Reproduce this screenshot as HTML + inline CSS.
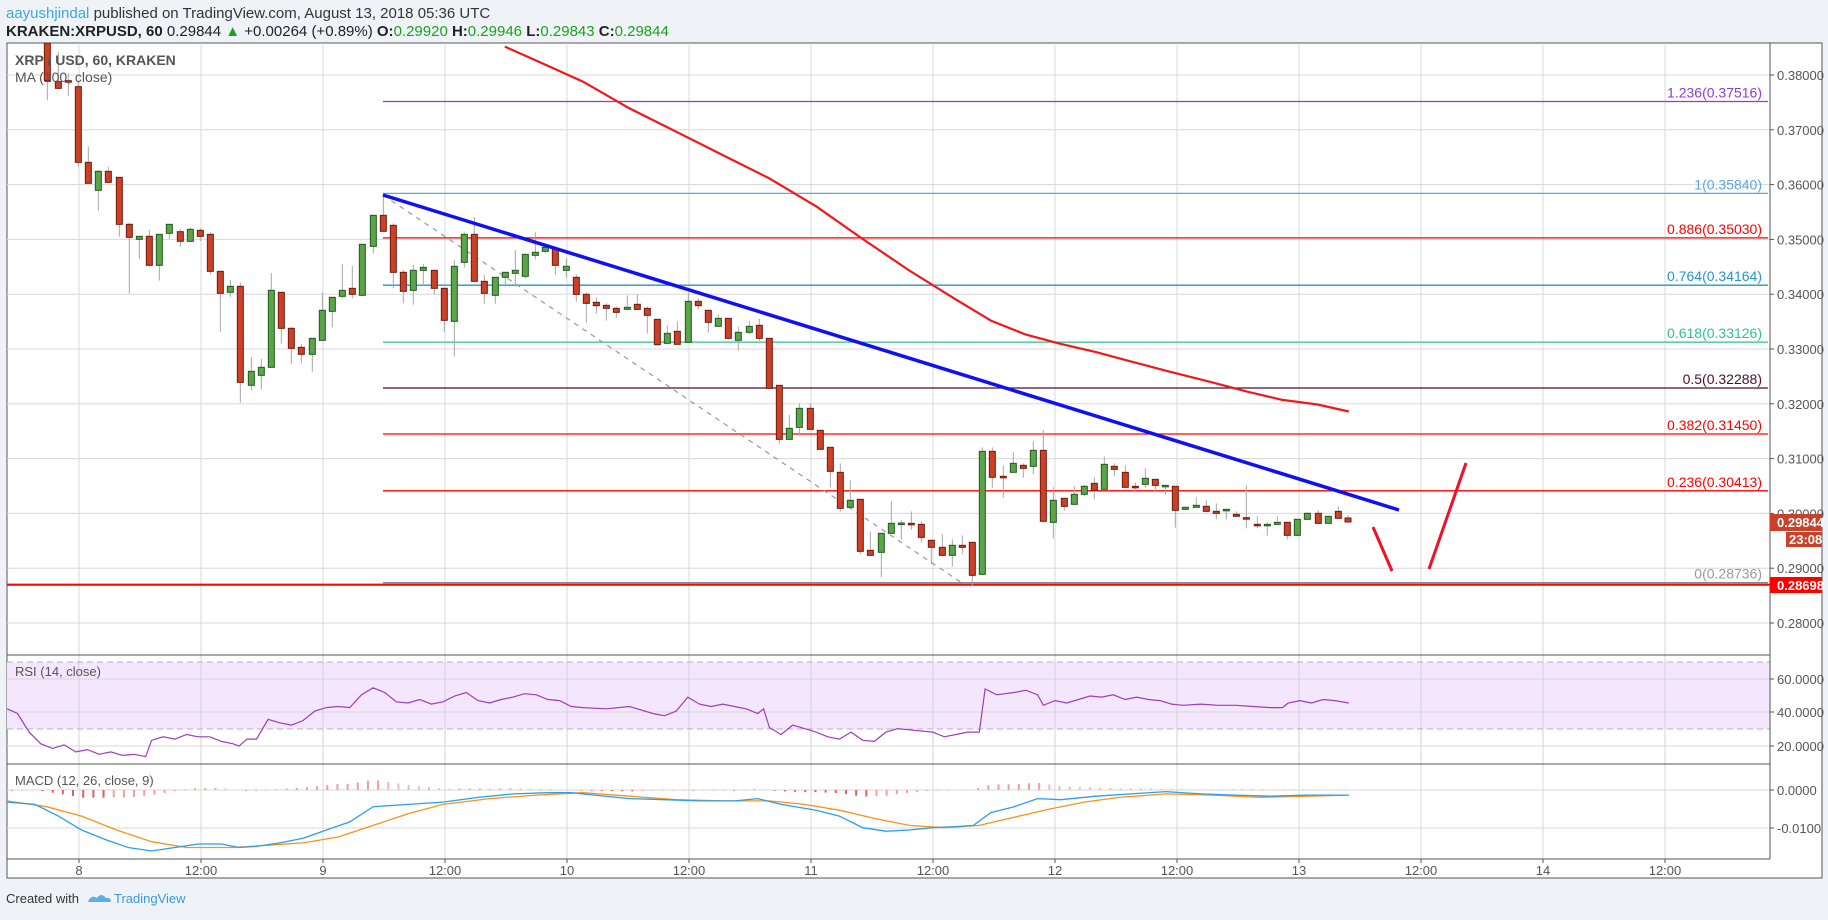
<!DOCTYPE html>
<html><head><meta charset="utf-8">
<style>
html,body{margin:0;padding:0;background:#eff3f7;}
body{width:1828px;height:915px;overflow:hidden;font-family:"Liberation Sans",sans-serif;position:relative;}
svg text{font-family:"Liberation Sans",sans-serif;}
</style></head>
<body>
<svg id="s" width="1828" height="915" xmlns="http://www.w3.org/2000/svg">
<rect x="0" y="0" width="1828" height="915" fill="#eff3f7"/>
<rect x="7" y="43" width="1815" height="835" fill="#ffffff" stroke="#555" stroke-width="1"/>
<text x="6" y="18" font-size="15" fill="#333"><tspan fill="#3ba9dc">aayushjindal</tspan> published on TradingView.com, August 13, 2018 05:36 UTC</text>
<text x="6" y="36" font-size="15" fill="#222"><tspan font-weight="bold">KRAKEN:XRPUSD, 60</tspan> 0.29844 <tspan fill="#1da01d">▲</tspan> +0.00264 (+0.89%) <tspan font-weight="bold">O:</tspan><tspan fill="#1da01d">0.29920</tspan> <tspan font-weight="bold">H:</tspan><tspan fill="#1da01d">0.29946</tspan> <tspan font-weight="bold">L:</tspan><tspan fill="#1da01d">0.29843</tspan> <tspan font-weight="bold">C:</tspan><tspan fill="#1da01d">0.29844</tspan></text>
<g id="g"></g>
<text x="6" y="903" font-size="13" fill="#333">Created with</text>
<path d="M88 902 q3 -8 9 -4 q4 -6 9 0 q5 -1 5 4 z" fill="#5ab0e0"/>
<text x="114" y="903" font-size="13" fill="#3a9ad9">TradingView</text>
</svg>
<script>
var NS="http://www.w3.org/2000/svg",G=document.getElementById('g');
function el(t,a,txt){var e=document.createElementNS(NS,t);for(var k in a)e.setAttribute(k,a[k]);if(txt!==undefined)e.textContent=txt;G.appendChild(e);return e;}
var L=7,R=1770,T=43,B=655;
for(var i=0;i<11;i++){var y=75+i*54.8;el('line',{x1:L,x2:R,y1:y,y2:y,stroke:'#d8d8d8','stroke-width':1});
 el('line',{x1:R,x2:R+4,y1:y,y2:y,stroke:'#555'});
 el('text',{x:1777,y:y+5,'font-size':13,fill:'#555'},(0.38-i*0.01).toFixed(5));}
var tl=['8','12:00','9','12:00','10','12:00','11','12:00','12','12:00','13','12:00','14','12:00'];
for(var k=0;k<14;k++){var x=79+122*k;el('line',{x1:x,x2:x,y1:T,y2:859,stroke:'#d8d8d8'});
 el('line',{x1:x,x2:x,y1:859,y2:863,stroke:'#555'});
 el('text',{x:x,y:875,'font-size':13,fill:'#555','text-anchor':'middle'},tl[k]);}
el('rect',{x:L,y:662,width:R-L,height:67,fill:'#f3e6fd'});
[679,712,746].forEach(function(y,i){el('line',{x1:L,x2:R,y1:y,y2:y,stroke:'#d8d8d8'});el('line',{x1:R,x2:R+4,y1:y,y2:y,stroke:'#555'});el('text',{x:1777,y:y+5,'font-size':13,fill:'#555'},['60.0000','40.0000','20.0000'][i]);});
for(var k=0;k<14;k++){var x=79+122*k;el('line',{x1:x,x2:x,y1:655,y2:764,stroke:'#d8cde0'});}
[662,729].forEach(function(y){el('line',{x1:L,x2:R,y1:y,y2:y,stroke:'#b9b0c0','stroke-dasharray':'6,4'});});
[790,828].forEach(function(y,i){el('line',{x1:L,x2:R,y1:y,y2:y,stroke:'#d8d8d8'});el('line',{x1:R,x2:R+4,y1:y,y2:y,stroke:'#555'});el('text',{x:1777,y:y+5,'font-size':13,fill:'#555'},['0.0000','-0.0100'][i]);});
[655,764,859].forEach(function(y){el('line',{x1:L,x2:R,y1:y,y2:y,stroke:'#555'});});
el('line',{x1:R,x2:R,y1:T,y2:859,stroke:'#555'});
var fib=[[101.5,'#8e3bd0','1.236(0.37516)'],[193.4,'#5aa9d6','1(0.35840)'],[237.9,'#ff0000','0.886(0.35030)'],[285.2,'#2196c9','0.764(0.34164)'],[342.1,'#2fbf8f','0.618(0.33126)'],[388,'#4a1030','0.5(0.32288)'],[434,'#ff0000','0.382(0.31450)'],[490.8,'#ff0000','0.236(0.30413)'],[582.7,'#888','0(0.28736)']];
fib.forEach(function(f){el('line',{x1:383,x2:1768,y1:f[0],y2:f[0],stroke:f[1],'stroke-width':1.3});
 el('text',{x:1762,y:f[0]-4,'font-size':14,fill:f[1]==='#888'?'#999':f[1],'text-anchor':'end'},f[2]);});
el('line',{x1:L,x2:R,y1:584.7,y2:584.7,stroke:'#ff0000','stroke-width':2.2});
el('line',{x1:383,y1:195,x2:962,y2:583,stroke:'#999','stroke-width':1.2,'stroke-dasharray':'5,5'});
var Z=[[0,40,[
[142,0,122,0,180,0],[175,125,145,35,145,0],[205,122,125,100,168,0],[235,140,367,125,380,0],[265,367,430,320,430,0],[295,394,451,390,512,1],[325,394,427,380,430,0],[358,412,553,412,590,0],[388,553,592,548,760,0],[418,589,598,589,656,1],[448,589,676,570,676,0],[478,583,676,583,722,1],[508,553,580,553,597,1],[541,575,604,568,620,0],[571,568,604,562,604,1],[601,571,589,565,603,0],[631,583,694,577,704,0],[661,694,760,694,875,0],[691,739,757,720,772,1],[721,739,1027,727,1088,0],[754,994,1036,951,1051,1],[784,982,1006,957,1049,1],[814,751,982,699,982,1],[844,757,865,757,911,0],[874,865,925,860,973,0],[904,922,943,912,970,0],[937,895,943,895,995,1],[967,811,901,757,901,1],[997,772,814,772,862,1],[1027,751,769,672,775,1],[1057,745,763,678,775,0],[1087,613,766,613,766,1],[1120,526,619,526,640,1],[1150,526,574,463,574,0],[1180,556,697,550,745,0],[1210,697,754,690,790,0],[1240,691,751,675,794,1],[1270,682,691,672,736,1],[1303,691,745,691,763,0],[1333,745,841,745,875,0],[1363,679,844,660,950,1]]],
[380,180,[
[253,163,247,157,263,1],[283,163,304,111,304,0],[313,304,340,285,371,0],[346,292,346,292,371,1],[376,277,292,277,320,1],[406,271,280,210,320,1],[436,223,289,223,296,1],[466,217,226,157,238,1],[496,202,214,196,220,1],[526,208,256,208,284,0],[559,259,271,235,293,1],[589,292,343,283,365,0],[619,343,370,337,428,0],[649,367,377,353,401,0],[679,376,385,370,422,0],[709,385,397,380,413,0],[742,382,388,346,391,1],[772,373,388,343,390,0],[802,385,406,380,461,0],[832,418,494,418,497,0],[862,460,490,437,490,1],[892,454,493,425,493,0],[925,364,487,337,487,1],[955,364,377,355,389,0],[985,391,427,391,458,0],[1015,415,439,403,439,1],[1045,415,475,415,480,0],[1075,457,481,440,512,1],[1108,439,457,422,463,1],[1138,436,475,416,482,0],[1168,475,625,475,625,0],[1198,616,778,616,791,0],[1228,745,778,705,778,1],[1258,685,742,670,766,1],[1291,685,748,670,748,0],[1321,751,808,751,808,0],[1351,802,874,802,922,0]]],
[820,400,[
[61,217,325,190,335,0],[91,301,322,241,322,1],[121,298,454,298,463,0],[151,451,466,394,466,0],[184,400,457,400,532,1],[214,370,400,304,400,1],[244,369,372,361,419,1],[274,370,374,334,389,0],[304,373,412,364,428,0],[334,421,442,421,493,0],[367,442,466,403,469,0],[397,436,466,418,500,1],[427,436,442,406,463,0],[457,427,526,427,556,0],[487,154,523,142,523,1],[517,154,232,142,263,0],[550,229,233,196,293,0],[580,190,217,157,217,1],[610,196,205,190,233,0],[640,151,199,124,223,1],[670,151,364,90,364,0],[700,301,367,262,416,1],[733,295,319,295,331,0],[763,283,313,259,313,1],[793,259,283,255,289,1],[823,250,271,232,298,0],[853,193,268,169,268,1],[883,199,208,190,229,0],[916,217,262,196,262,0],[946,259,262,247,277,0],[976,235,253,205,262,1],[1006,238,256,238,277,0],[1036,256,257,256,283,1],[1066,259,331,259,383,0],[1096,322,328,319,331,1],[1129,316,322,292,322,1],[1159,319,334,301,337,0],[1189,334,340,310,358,0],[1219,328,331,328,358,1],[1249,343,349,334,350,0],[1279,353,356,256,385,0],[1312,373,376,349,385,0],[1342,373,376,367,407,1],[1372,367,373,349,373,1],[1402,367,406,367,418,0],[1432,358,406,358,409,1],[1462,340,358,337,358,1],[1495,340,370,331,370,0],[1525,349,370,349,370,1],[1555,334,355,319,355,0],[1584,354,366,345,366,0]]]];
Z.forEach(function(z){var ox=z[0],oy=z[1];z[2].forEach(function(c){
 var x=ox+c[0]/3,t=Math.max(T,oy+c[1]/3),b=oy+c[2]/3,wt=Math.max(T,oy+c[3]/3),wb=oy+c[4]/3;
 el('line',{x1:x,x2:x,y1:wt,y2:wb,stroke:'#a8a8a8','stroke-width':1});
 if(b-t<1.5){b=t+1.5;}
 el('rect',{x:x-3,y:t,width:6,height:b-t,fill:c[5]?'#5ba548':'#cc4126',stroke:c[5]?'#1e5a1e':'#6e1a0e','stroke-width':1});
});});
var s=1.1658;
var ma=[[433,40],[460,52],[500,70],[540,93],[580,113],[620,133],[660,153],[700,177],[740,205],[780,232],[820,257],[850,275],[880,287],[910,295],[940,302],[970,310],[1000,318],[1040,328],[1070,336],[1100,343],[1130,347],[1157,353]];
el('polyline',{points:ma.map(function(p){return (p[0]*s).toFixed(1)+','+(p[1]*s).toFixed(1)}).join(' '),fill:'none',stroke:'#f01818','stroke-width':2.2,'stroke-linejoin':'round'});
el('line',{x1:383,y1:195,x2:1399,y2:510,stroke:'#1010f0','stroke-width':3.5});
el('line',{x1:1373,y1:527,x2:1392,y2:571,stroke:'#f0102a','stroke-width':3});
el('line',{x1:1429,y1:569,x2:1466,y2:463,stroke:'#f0102a','stroke-width':3});
var rsi=[[6,608],[15,612],[25,628],[35,638],[45,642],[55,639],[65,645],[75,643],[85,647],[95,645],[105,648],[115,647],[125,649],[130,635],[140,632],[150,634],[160,630],[170,632],[180,632],[190,636],[200,638],[205,640],[212,634],[220,634],[230,617],[240,620],[250,622],[260,618],[270,610],[280,607],[290,606],[300,607],[310,596],[320,590],[330,594],[340,602],[350,603],[360,600],[370,604],[380,602],[390,597],[400,594],[410,601],[420,603],[430,600],[440,598],[450,595],[460,596],[470,600],[480,601],[490,606],[500,607],[520,608],[540,606],[560,612],[570,614],[580,610],[590,598],[600,604],[610,606],[620,604],[630,606],[640,608],[650,612],[655,608],[660,624],[670,630],[680,622],[690,625],[700,628],[710,632],[720,634],[730,628],[740,635],[750,636],[760,628],[770,625],[780,626],[800,628],[810,632],[820,630],[830,628],[840,628],[845,591],[855,596],[870,594],[880,592],[890,596],[895,605],[905,601],[915,603],[925,600],[935,597],[945,598],[955,596],[965,600],[975,598],[985,600],[995,601],[1005,604],[1015,605],[1030,604],[1045,605],[1060,605],[1075,606],[1090,607],[1100,607],[1105,603],[1115,601],[1125,603],[1135,600],[1145,601],[1157,603]];
el('polyline',{points:rsi.map(function(p){return (p[0]*s).toFixed(1)+','+(p[1]*s).toFixed(1)}).join(' '),fill:'none',stroke:'#9c3fb8','stroke-width':1.2});
var mb=[[6,688],[30,690],[50,700],[70,712],[90,720],[110,727],[130,730],[150,727],[170,724],[190,724],[205,727],[220,726],[240,723],[260,719],[280,712],[300,705],[320,692],[350,690],[380,688],[410,684],[440,681],[470,680],[490,680],[510,682],[540,685],[570,686],[600,687],[630,687],[650,685],[670,690],[700,695],[720,700],[740,710],[760,713],[780,712],[800,710],[820,709],[835,708],[850,697],[870,692],[890,685],[910,686],[940,683],[970,681],[1000,679],[1030,681],[1060,682],[1090,683],[1120,682],[1157,682]];
var mo=[[6,687],[40,692],[70,700],[100,712],[130,722],[160,727],[200,727],[230,725],[260,723],[290,718],[320,708],[350,698],[380,690],[420,685],[460,682],[500,680],[540,683],[580,686],[620,687],[660,687],[690,690],[720,695],[750,702],[780,708],[810,710],[840,708],[870,701],[900,694],[930,688],[960,684],[1000,681],[1040,682],[1080,684],[1120,683],[1157,682]];
function interp(a,x){for(var i=1;i<a.length;i++){if(x<=a[i][0]){var p=a[i-1],q=a[i];return p[1]+(q[1]-p[1])*(x-p[0])/(q[0]-p[0]);}}return a[a.length-1][1];}
var zero=790,prev=0;
for(var x=12;x<=1345;x+=10.17){var sx=x/s;var d=(interp(mo,sx)-interp(mb,sx))*s*0.55;
 var h=Math.abs(d);var col=d>0?(d>=prev?'#e8a0a0':'#f0b8b8'):(d<=prev?'#e06060':'#f0a0a0');prev=d;
 el('rect',{x:x-1,y:d>0?zero-h:zero,width:2,height:Math.max(h,0.6),fill:col});}
el('polyline',{points:mo.map(function(p){return (p[0]*s).toFixed(1)+','+(p[1]*s).toFixed(1)}).join(' '),fill:'none',stroke:'#f7931e','stroke-width':1.3});
el('polyline',{points:mb.map(function(p){return (p[0]*s).toFixed(1)+','+(p[1]*s).toFixed(1)}).join(' '),fill:'none',stroke:'#2aa0e8','stroke-width':1.3});
el('text',{x:15,y:65,'font-size':14,'font-weight':'bold',fill:'#555'},'XRP / USD, 60, KRAKEN');
el('text',{x:15,y:82,'font-size':14,fill:'#555'},'MA (100, close)');
el('text',{x:15,y:676,'font-size':13,fill:'#555'},'RSI (14, close)');
el('text',{x:15,y:785,'font-size':13,fill:'#555'},'MACD (12, 26, close, 9)');
el('rect',{x:1770,y:514,width:52,height:17,fill:'#c9412a'});
el('text',{x:1777,y:527,'font-size':13,'font-weight':'bold',fill:'#fff'},'0.29844');
el('rect',{x:1786,y:532,width:36,height:15,fill:'#c9412a'});
el('text',{x:1789,y:544,'font-size':13,'font-weight':'bold',fill:'#fff'},'23:08');
el('rect',{x:1770,y:577,width:52,height:16,fill:'#ff0000'});
el('text',{x:1777,y:590,'font-size':13,'font-weight':'bold',fill:'#fff'},'0.28698');
</script>
</body></html>
